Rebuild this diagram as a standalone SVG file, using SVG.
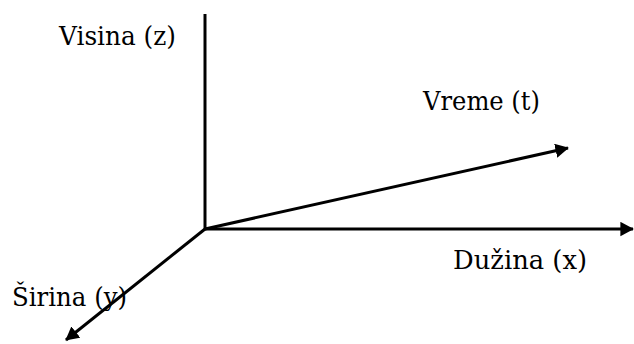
<svg xmlns="http://www.w3.org/2000/svg" width="634" height="344" viewBox="0 0 634 344">
<style>
.ax{stroke:#000;stroke-width:3;fill:none}
.t{font-family:'DejaVu Serif','Liberation Serif',serif;font-size:26px;fill:#000}
</style>
<defs>
<marker id="ah" markerWidth="5" markerHeight="5" refX="4.2" refY="2.4" orient="auto" markerUnits="strokeWidth">
<path d="M0,0 L4.5,2.4 L0,4.8 z" fill="#000"/>
</marker>
</defs>
<rect width="634" height="344" fill="#fff"/>
<g id="connectors">
<line class="ax" x1="205" y1="14" x2="205" y2="230"/>
<line class="ax" x1="204" y1="229" x2="633" y2="229" marker-end="url(#ah)"/>
<line class="ax" x1="205" y1="229" x2="568" y2="148" marker-end="url(#ah)"/>
<line class="ax" x1="205" y1="229" x2="66" y2="340" marker-end="url(#ah)"/>
</g>
<g id="visina"><text class="t" x="59" y="45" textLength="117" lengthAdjust="spacingAndGlyphs">Visina (z)</text></g>
<g id="vreme"><text class="t" x="423" y="110" textLength="117" lengthAdjust="spacingAndGlyphs">Vreme (t)</text></g>
<g id="duzina"><text class="t" x="453" y="269" textLength="134" lengthAdjust="spacingAndGlyphs">Dužina (x)</text></g>
<g id="sirina"><text class="t" x="12" y="306" textLength="115" lengthAdjust="spacingAndGlyphs">Širina (y)</text></g>
</svg>
